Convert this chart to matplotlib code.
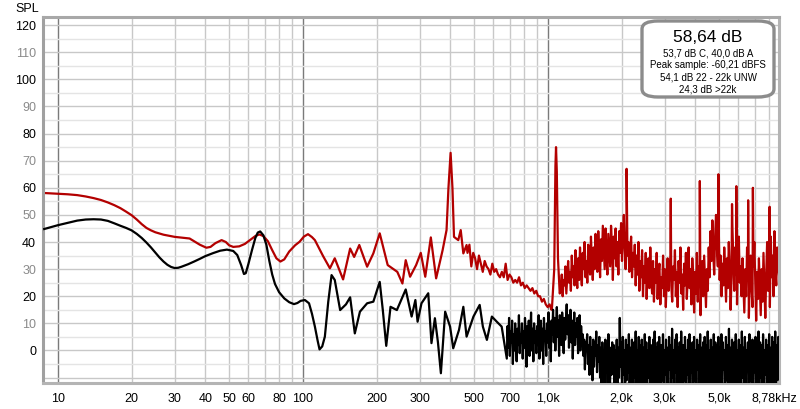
import numpy as np
import matplotlib
matplotlib.use("Agg")
import matplotlib.pyplot as plt
from matplotlib.patches import FancyBboxPatch
from matplotlib.transforms import ScaledTranslation

plt.rcParams["font.family"] = ["Liberation Sans", "DejaVu Sans"]

# ---- red trace (peak) : smooth / sparse part, read point by point ----
red_f = [8.7, 10, 11, 12, 13, 14, 15, 16, 17, 18, 19, 20, 21, 22, 23, 24, 25, 27,
         30, 34.5, 38, 40.4, 42, 44, 46.6, 48.5, 50, 52, 55, 58, 61, 64, 66.4,
         69, 72, 75, 78, 81, 84, 88, 93, 97, 101, 105, 109, 112, 121, 129, 135,
         146, 156, 162, 170, 183, 194, 206, 222, 243, 255, 263, 274, 290, 303,
         316, 333, 350, 372, 386, 393, 401, 408, 414, 431, 441, 452, 466]
red_db = [58.1, 57.8, 57.6, 57.3, 56.8, 56.2, 55.5, 54.6, 53.6, 52.5, 51.2, 49.9,
          48.3, 46.6, 45.2, 44.3, 43.6, 42.7, 41.9, 41.3, 39.0, 37.9, 38.2, 39.6,
          40.7, 40.0, 38.8, 38.2, 38.4, 39.3, 40.8, 42.2, 42.8, 42.2, 40.3, 37.0,
          34.0, 32.8, 33.6, 36.5, 38.8, 40.1, 42.0, 42.9, 41.8, 40.7, 34.8, 30.3,
          34.0, 26.2, 37.6, 34.5, 38.9, 30.9, 35.8, 43.2, 31.5, 29.0, 24.7, 33.3,
          27.2, 31.5, 36.0, 27.2, 41.7, 26.6, 37.0, 44.4, 60.0, 72.9, 60.0, 41.9,
          40.7, 44.4, 35.8, 38.9]

# red: noisy decline 470 Hz .. 1.035 kHz
red_mid_db = [36, 39, 31, 36, 34, 30, 35, 32, 29, 33, 31, 30, 28, 32, 29, 30,
              28, 27, 29, 27, 32, 26, 28, 27, 25, 26, 25, 27, 24, 25, 23, 24,
              23, 22, 23, 21, 22, 20, 20, 18, 19, 17, 16, 17, 15]

# red: 1 kHz tone
red_tone_f = [1040, 1062, 1074, 1080, 1088, 1100, 1118]
red_tone_db = [16, 30, 68, 75, 66, 34, 21]

# red: dense noise 1.13 kHz .. 8.78 kHz
red_hi_db = [22, 28, 20, 26, 24, 31, 21, 27, 33, 25, 29, 22, 35, 27, 31, 24, 37, 28, 23, 34,
             26, 38, 29, 24, 36, 30, 40, 27, 33, 25, 39, 31, 28, 42, 33, 26, 38, 30, 43, 35,
             29, 44, 36, 27, 41, 33, 46, 38, 30, 45, 35, 28, 43, 37, 31, 46, 39, 26, 42, 34,
             45, 31, 40, 28, 44, 36, 47, 33, 41, 50, 38, 30, 44, 35, 40, 29, 37, 42, 27, 36,
             31, 39, 24, 35, 28, 40, 22, 33, 27, 37, 20, 31, 25, 36, 19, 29, 34, 23, 38, 26,
             21, 33, 18, 30, 25, 36, 19, 28, 32, 17, 27, 23, 35, 20, 30, 16, 26, 34, 22, 29,
             35, 24, 18, 31, 26, 37, 20, 29, 16, 33, 25, 38, 21, 28, 15, 32, 24, 36, 19, 27,
             38, 23, 30, 17, 34, 26, 14, 29, 21, 36, 18, 31, 24, 13, 27, 33, 20, 35, 25, 16,
             30, 22, 38, 27, 44, 33, 48, 36, 28, 42, 50, 38, 31, 45, 26, 35, 20, 32, 24, 38,
             28, 18, 34, 23, 40, 30, 15, 27, 45, 33, 22, 38, 28, 17, 36, 42, 25, 31, 20, 34,
             24, 14, 30, 20, 38, 26, 12, 28, 35, 22, 16, 31, 40, 25, 11, 29, 19, 34, 23, 13,
             30, 18, 36, 24, 12, 28, 40, 22, 33, 16, 42, 27, 35, 20, 44, 30, 24, 38, 32, 28]

# red: harmonic spikes
red_harm_f = [2096, 3175, 4172, 4970, 5646, 5880, 6570, 6870, 8040]
red_harm_db = [67, 56, 62.5, 65, 54, 60.6, 55.4, 60, 53]

# ---- black trace (average) ----
blk_f = [8.8, 10, 11, 12, 13, 14, 15, 16, 17, 18, 19, 20, 21, 22, 23, 24, 25, 26,
         27, 28, 29, 30, 31, 32, 34, 36, 38, 40, 43, 46, 49, 52, 54, 56, 57.5,
         58.5, 60, 62, 64, 65.5, 67, 69, 71, 73, 75, 77, 80, 84, 88, 92, 95, 98,
         102, 106, 109, 112, 115, 117, 120, 123, 127, 131, 135, 142, 150, 156,
         163, 171, 183, 194, 206, 212, 219, 228, 242, 263, 278, 288, 294, 305,
         325, 335, 346, 356, 366, 381, 399, 411, 434, 452, 466, 497, 527, 543,
         564, 591, 619, 648]
blk_db = [44.8, 46.2, 47.1, 47.9, 48.3, 48.4, 48.3, 47.8, 46.9, 46.0, 45.2, 44.3,
          43.0, 41.5, 39.8, 38.0, 36.1, 34.3, 32.8, 31.6, 30.8, 30.4, 30.5, 30.9,
          31.8, 32.8, 33.8, 34.8, 35.9, 36.8, 37.2, 36.7, 35.2, 31.5, 28.2, 28.5,
          32.0, 37.0, 41.5, 43.5, 43.9, 42.5, 39.0, 33.0, 28.0, 24.5, 21.5, 19.2,
          17.8, 17.1, 17.5, 18.3, 18.6, 17.4, 13.5, 8.8, 3.5, 0.4, 1.5, 5.1, 18.0,
          27.8, 26.0, 14.9, 17.0, 19.6, 6.3, 14.3, 17.4, 18.0, 25.3, 15.0, 1.7,
          16.1, 14.9, 22.5, 12.5, 18.6, 10.6, 17.4, 21.1, 2.7, 11.9, 3.0, -8.4,
          14.3, 8.8, 0.8, 7.6, 16.1, 5.1, 12.5, 16.8, 8.8, 3.9, 12.5, 10.6, 8.8]

# black: dense noise 680 Hz .. 8.78 kHz
blk_hi_db = [-3, 9, 1, 12, -2, 7, 3, 11, -5, 6, 0, 10, 4, -4, 8, 2, 13, -1, 6, 3,
             10, -3, 7, 1, 12, 4, -6, 9, 2, 11, -2, 6, 14, 0, 8, -4, 10, 3, 7, -1,
             9, 2, 13, -3, 6, 11, 0, 8, -5, 12, 4, 7, -2, 10, 3, 14, 1, 9, -4, 11,
             6, 15, 3, 12, 0, 9, 16, 5, 11, -2, 13, 7, 2, 14, 8, -1, 12, 4, 10, 17,
             6, 13, 1, 9, 15, 3, 11, -3, 8, 14, 2, 10, 5, 12, -1, 7, 13, 0, 9, 4,
             6, -2, 4, -7, 3, 0, 6, -5, 2, -9, 5, -3, 1, -11, 4, -6, 3, -2, 7, -8,
             2, -4, 5, -10, 1, -13, 3, -6, 0, -14, 4, -8, 2, -12, 6, -3, -15, 1, -9, 3,
             -5, 2, -13, 0, -7, 4, -16, 1, -10, 12, -6, 3, -14, 5, -9, 0, -16, 4, -11, 2,
             -8, 6, -15, 1, -12, 4, -6, -16, 3, -10, 7, -14, 0, -8, 5, -16, 2, -11, 4, -15,
             1, -7, 6, -13, 3, -16, 0, -10, 5, -14, 2, -8, -16, 4, -12, 7, -15, 1, -9, 3,
             -14, 5, -6, -16, 2, -11, 6, -15, 0, -9, 4, -13, 1, -16, 5, -7, 2, -14, 8, -10,
             0, -15, 4, -8, 6, -16, 1, -12, 3, -14, 7, -6, -16, 2, -11, 5, -15, 0, -9, 4,
             -13, 6, -16, 1, -8, 3, -15, 5, -11, 0, -16, 4, -7, 2, -14, 6, -12, 1, -16, 3,
             -6, 5, -15, 2, -10, 7, -16, 0, -12, 4, -14, 1, -8, 6, -16, 3, -11, 2, -15, 5,
             -9, 1, -16, 6, -13, 3, -7, 0, -15, 5, -11, 2, -16, 8, -12, 1, -14, 4, -8, -16,
             3, -12, 6, -15, 0, -9, 4, -16, 2, -13, 7, -10, 1, -16, 5, -14, 0, -7, 3, -15,
             6, -11, 2, -16, 4, -13, 0, -8, 5, -15, 1, -12, 7, -16, 3, -10, 2, -14, 6, -16,
             0, -9, 4, -15, 2, -12, 6, -16, 1, -13, 5, -10, 3, -16, 7, -14, 2, -11, 5, 4]

x_ticks = [10, 20, 30, 40, 50, 60, 80, 100, 200, 300, 500, 700, 1000, 2000,
           3000, 5000, 8780]
x_labels = ["10", "20", "30", "40", "50", "60", "80", "100", "200", "300", "500",
            "700", "1,0k", "2,0k", "3,0k", "5,0k", "8,78kHz"]
y_ticks = list(range(0, 121, 10))

info_big = "58,64 dB"
info_lines = ["53,7 dB C, 40,0 dB A", "Peak sample: -60,21 dBFS",
              "54,1 dB 22 - 22k UNW", "24,3 dB >22k"]

# frequency bins of the dense segments; spikes merged in by frequency
red_f_all = np.concatenate([red_f, np.geomspace(470, 1035, len(red_mid_db)),
                            red_tone_f, np.geomspace(1130, 8780, len(red_hi_db)),
                            red_harm_f])
red_db_all = np.concatenate([red_db, red_mid_db, red_tone_db, red_hi_db, red_harm_db])
order = np.argsort(red_f_all, kind="stable")
red_f_all, red_db_all = red_f_all[order], red_db_all[order]
blk_f_all = np.concatenate([blk_f, np.geomspace(680, 8780, len(blk_hi_db))])
blk_db_all = np.concatenate([blk_db, blk_hi_db])

W, H = 800, 409
fig = plt.figure(figsize=(W / 100, H / 100), dpi=100)
fig.patch.set_facecolor("white")
x0, x1, y0, y1 = 43, 779, 17, 383
ax = fig.add_axes([x0 / W, 1 - y1 / H, (x1 - x0) / W, (y1 - y0) / H])
ax.set_xscale("log")
ax.set_xlim(8.7, 8780)
ax.set_ylim(-12, 123)

# grid
for dec in (10, 100, 1000):
    for m in range(1, 10):
        f = m * dec
        if f < 8780:
            ax.axvline(f, color="#7a7a7a" if m == 1 else "#c8c8c8",
                       lw=1.0, zorder=0)
for v in range(-10, 121, 5):
    ax.axhline(v, color="#c8c8c8" if v % 10 == 0 else "#e4e4e4", lw=1.0, zorder=0)

ax.plot(red_f_all, red_db_all, color="#b30000", lw=1.6, zorder=2)
ax.plot(blk_f_all, blk_db_all, color="black", lw=1.6, zorder=3)

ax.set_xticks(x_ticks)
ax.set_xticklabels(x_labels)
ax.xaxis.set_minor_locator(matplotlib.ticker.NullLocator())
ax.set_yticks(y_ticks)
ax.set_yticklabels([str(v) for v in y_ticks])
for lab, v in zip(ax.get_yticklabels(), y_ticks):
    lab.set_color("black" if v % 20 == 0 else "#8a8a8a")
ax.tick_params(axis="both", length=0, labelsize=9)
ax.tick_params(axis="x", pad=7)
ax.tick_params(axis="y", pad=5)
last = ax.get_xticklabels()[-1]
last.set_horizontalalignment("right")
last.set_transform(last.get_transform() + ScaledTranslation(0.18, 0, fig.dpi_scale_trans))

for s in ax.spines.values():
    s.set_color("#b4b4b4")
    s.set_linewidth(2.2)
ax.spines["left"].set_color("#a0a0a0")
ax.spines["top"].set_color("#a8a8a8")

fig.text(27 / W, 1 - 9 / H, "SPL", ha="center", va="center", fontsize=9)

# info box
bx0, bx1, by0, by1 = 642, 774, 21, 97
box = FancyBboxPatch((bx0 / W, 1 - by1 / H), (bx1 - bx0) / W, (by1 - by0) / H,
                     boxstyle="round,pad=0,rounding_size=0.02",
                     transform=fig.transFigure, facecolor="white",
                     edgecolor="#8c8c8c", lw=2.4, zorder=5)
fig.add_artist(box)
cx = (bx0 + bx1) / 2 / W
fig.text(cx, 1 - 37 / H, info_big, ha="center", va="center", fontsize=12.5,
         zorder=6)
for i, line in enumerate(info_lines):
    fig.text(cx, 1 - (53 + 12.3 * i) / H, line, ha="center", va="center",
             fontsize=7, zorder=6)

fig.savefig("out.png", dpi=100, facecolor="white")
